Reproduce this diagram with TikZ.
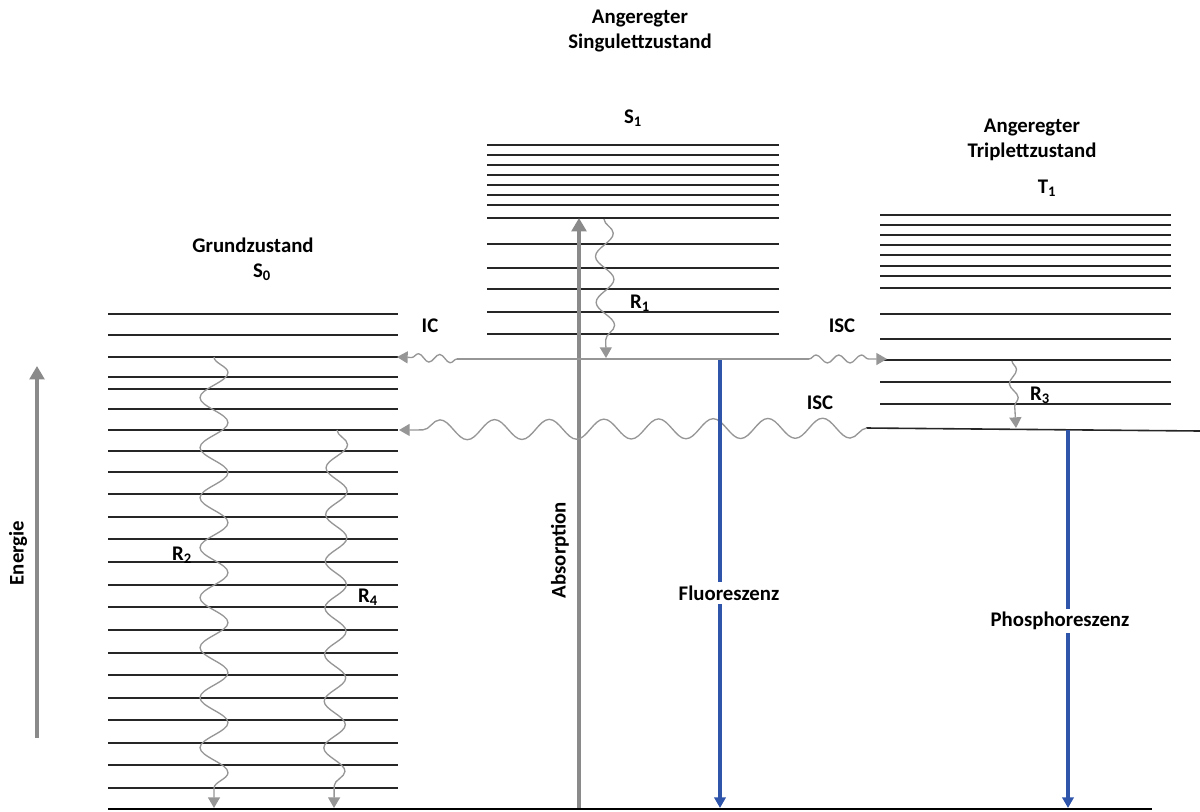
\documentclass[tikz,border=0pt]{standalone}
\usepackage{fontspec}
\setmainfont{Carlito}
\usetikzlibrary{arrows.meta,decorations.pathmorphing}
\definecolor{arrgray}{RGB}{138,138,138}
\definecolor{wavgray}{RGB}{150,150,150}
\definecolor{fblue}{RGB}{47,85,170}
\begin{document}
\begin{tikzpicture}[x=0.75pt,y=-0.75pt,
  font=\bfseries\fontsize{15.6}{18.75}\selectfont,
  level/.style={line width=1.2pt,draw=black!85},
  lbl/.style={inner sep=0pt,align=center},
  gaplbl/.style={fill=white,inner sep=2.5pt},
  thickarrow/.style={draw=arrgray,line width=3.6pt,-{Triangle[length=10pt,width=11pt]}},
  emission/.style={draw=fblue,line width=3pt,-{Triangle[length=8pt,width=8.5pt]}},
  wavy/.style={draw=wavgray,line width=1pt,decorate,-{Triangle[length=8pt,width=9pt]}},
  plainline/.style={draw=wavgray,line width=1.1pt}]
\useasboundingbox (0,0) rectangle (1200,811);

% energy levels S0
\foreach \y in {314,335,357,377,389,409,430,451,472,494,517,539,562,585,607,630,653,675,698,720,743,765,788}
  \draw[level] (108,\y) -- (398,\y);
% ground line
\coordinate (g0) at (108,809);
\coordinate (g1) at (1152,809);
\draw[line width=1.9pt] (g0) -- (g1);
% energy levels S1
\foreach \y in {145,155,165,175,185,195,205,218,244,268,289,312,334}
  \draw[level] (487,\y) -- (779,\y);
% energy levels T1
\foreach \y in {215,225,235,245,255,266,276,288,314,339,360,382,404}
  \draw[level] (880,\y) -- (1171,\y);
\coordinate (t0a) at (866,428);
\coordinate (t0b) at (1200,431);
\draw[level] (t0a) -- (t0b);

% titles
\node[lbl] (tS1) at (640,31) {Angeregter\\Singulettzustand};
\node[lbl] (S1) at (633,118) {S\textsubscript{1}};
\node[lbl] (tT1) at (1032,140) {Angeregter\\Triplettzustand};
\node[lbl] (T1) at (1047,188) {T\textsubscript{1}};
\node[lbl] (tS0) at (253,245) {Grundzustand};
\node[lbl] (S0) at (262,272) {S\textsubscript{0}};

% Energie arrow
\coordinate (e0) at (37,738);
\coordinate (e1) at (37,366);
\draw[thickarrow,line width=3pt] (e0) -- (e1);
\node[lbl,rotate=90] (en) at (18,553) {Energie};

% Absorption
\coordinate (a0) at (579,808);
\coordinate (a1) at (579,218);
\draw[thickarrow] (a0) -- (a1);
\node[lbl,rotate=90] (abs) at (560,550) {Absorption};

% S1 lowest level (grey) with IC and ISC
\coordinate (s1l) at (457,359);
\coordinate (s1r) at (809,359);
\coordinate (icend) at (397,357);
\coordinate (iscend) at (887,359);
\draw[plainline] (s1l) -- (s1r);
\draw[wavy,decoration={snake,segment length=16pt,amplitude=3pt,post length=6pt}] (s1l) -- (icend);
\draw[wavy,decoration={snake,segment length=17pt,amplitude=3pt,post length=6pt}] (s1r) -- (iscend);
\node[lbl] (IC) at (430,326) {IC};
\node[lbl] (ISC1) at (842,326) {ISC};

% ISC T1 -> S0
\coordinate (isc2s) at (867,428);
\coordinate (isc2e) at (399,430);
\draw[wavy,decoration={snake,segment length=41pt,amplitude=7.5pt,post length=5pt}] (isc2s) -- (isc2e);
\node[lbl] (ISC2) at (820,403) {ISC};

% R1
\coordinate (r1s) at (604,219);
\coordinate (r1e) at (606,358);
\draw[wavy,decoration={snake,segment length=34.5pt,amplitude=6.8pt,post length=6pt}] (r1s) -- (r1e);
\node[lbl] (R1) at (640,303) {R\textsubscript{1}};

% R3
\coordinate (r3s) at (1012,361);
\coordinate (r3e) at (1016,428);
\draw[wavy,decoration={snake,segment length=21pt,amplitude=3pt,post length=6pt}] (r3s) -- (r3e);
\node[lbl] (R3) at (1040,395) {R\textsubscript{3}};

% R2
\coordinate (r2s) at (214,357);
\coordinate (r2e) at (214,808);
\draw[wavy,decoration={snake,segment length=37.5pt,amplitude=10.5pt,post length=7pt}] (r2s) -- (r2e);
\node[lbl] (R2) at (182,555) {R\textsubscript{2}};

% R4
\coordinate (r4s) at (337,430);
\coordinate (r4e) at (334,808);
\draw[wavy,decoration={snake,segment length=35pt,amplitude=8pt,post length=7pt}] (r4s) -- (r4e);
\node[lbl] (R4) at (368,597) {R\textsubscript{4}};

% Fluoreszenz
\coordinate (f0) at (720,360);
\coordinate (f1) at (720,808);
\draw[emission] (f0) -- (f1);
\node[gaplbl] (fl) at (729,593) {Fluoreszenz};

% Phosphoreszenz
\coordinate (p0) at (1068,430);
\coordinate (p1) at (1068,808);
\draw[emission] (p0) -- (p1);
\node[gaplbl] (ph) at (1060,621) {Phosphoreszenz};
\end{tikzpicture}
\end{document}
